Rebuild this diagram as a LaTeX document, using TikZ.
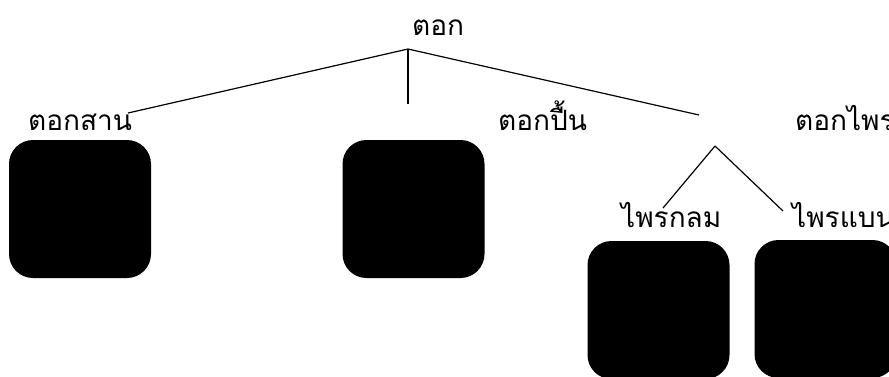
\documentclass[tikz,border=0pt]{standalone}
\usepackage{fontspec}
\newfontfamily\thaifont[Script=Thai]{Loma}
\tikzset{
  lbl/.style={anchor=base west, inner sep=0pt, font=\thaifont\fontsize{28}{32}\selectfont},
  blackbox/.style={fill=black, draw=none, rounded corners=24pt, inner sep=0pt,
                   minimum width=142pt, minimum height=138pt},
  link/.style={draw=black, line width=1.2pt}
}
\begin{document}
\begin{tikzpicture}[x=1pt,y=-1pt]
\useasboundingbox (0,0) rectangle (889,376);
\clip (0,0) rectangle (889,376);
% labels
\node[lbl] (root) at (412,35) {ตอก};
\node[lbl] (t1) at (28,130) {ตอกสาน};
\node[lbl] (t2) at (498,130) {ตอกปื้น};
\node[lbl] (t3) at (795,130) {ตอกไพร};
\node[lbl] (t31) at (621,227) {ไพรกลม};
\node[lbl] (t32) at (792,227) {ไพรแบน};
% boxes
\node[blackbox] (b1) at (80,209) {};
\node[blackbox] (b2) at (413.5,209) {};
\node[blackbox] (b3) at (658.5,310) {};
\node[blackbox] (b4) at (825.5,309) {};
% connector points
\coordinate (rj) at (408,49);
\coordinate (e1) at (128,113);
\coordinate (e2) at (408,104);
\coordinate (e3) at (699,115);
\coordinate (sj) at (715,146);
\coordinate (f1) at (663,208);
\coordinate (f2) at (783,211);
\draw[link] (rj) -- (e1);
\draw[link] (rj) -- (e2);
\draw[link] (rj) -- (e3);
\draw[link] (sj) -- (f1);
\draw[link] (sj) -- (f2);
\end{tikzpicture}
\end{document}
